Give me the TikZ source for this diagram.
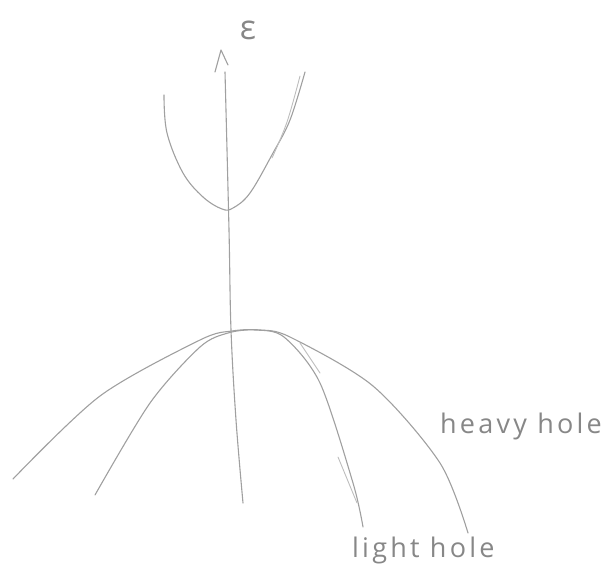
\documentclass[tikz,border=0pt]{standalone}
\usepackage{fontspec}
\setmainfont{Open Sans}
\definecolor{pencil}{RGB}{160,160,160}
\definecolor{lead}{RGB}{135,135,135}
\begin{document}
\begin{tikzpicture}[x=1pt,y=-1pt,
  sketch/.style={draw=pencil,line width=1.1pt,line cap=round,line join=round},
  faint/.style={draw=pencil!70,line width=0.9pt,line cap=round},
  handlabel/.style={text=lead,font=\fontsize{27}{30}\selectfont\addfontfeature{LetterSpace=12}},
  every node/.style={inner sep=0pt}]
\useasboundingbox (0,0) rectangle (613,585);
% energy axis
\draw[sketch] plot[smooth,tension=0.6] coordinates {(225,72) (229,230) (231,330) (236,420) (243,503)};
\coordinate (tip) at (221,50);
\draw[sketch] (215,72) -- (tip) -- (228,65);
\node[text=lead,font=\fontsize{34}{34}\selectfont] (eps) at (248,30) {ε};
% conduction band
\draw[sketch] plot[smooth,tension=0.6] coordinates {(164,95) (167,133) (183,173) (203,197) (222,209) (233,208) (250,193) (273,153) (290,120) (305,72)};
\draw[faint] plot[smooth,tension=0.6] coordinates {(272,158) (287,122) (300,76)};
% heavy hole band
\draw[sketch] plot[smooth,tension=0.5] coordinates {(13,479) (100,396) (200,340) (232,331) (260,330) (290,337) (373,386) (440,463) (468,533)};
% light hole band
\draw[sketch] plot[smooth,tension=0.5] coordinates {(95,495) (150,403) (200,347) (228,333) (255,330) (284,337) (320,383) (353,483) (363,527)};
\draw[faint] (338,457) -- (357,503);
\draw[faint] (300,343) -- (320,373);
% labels
\node[handlabel,anchor=base west] (hh) at (440,433) {heavy hole};
\node[handlabel,anchor=base west] (lh) at (352,557) {light hole};
\end{tikzpicture}
\end{document}
